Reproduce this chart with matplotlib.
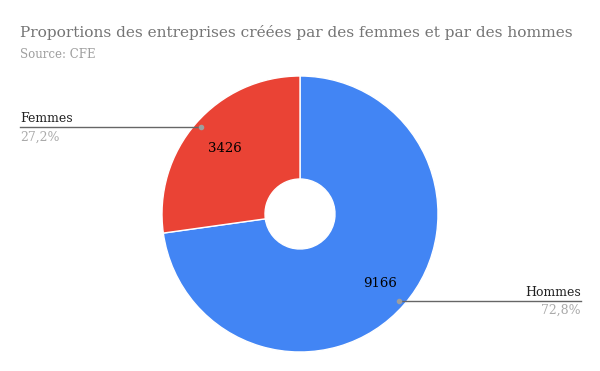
import numpy as np
import matplotlib
matplotlib.use("Agg")
import matplotlib.pyplot as plt

# Data
labels = ["Hommes", "Femmes"]
values = [9166, 3426]
colors = ["#4285F4", "#EA4335"]

title = "Proportions des entreprises créées par des femmes et par des hommes"
subtitle = "Source: CFE"

plt.rcParams['font.family'] = ['DejaVu Serif']

fig = plt.figure(figsize=(6, 3.71), dpi=100)
ax = fig.add_axes([0, 0, 1, 1])

cx, cy, R = 300, 371 - 214, 138
wedges, _ = ax.pie(values, colors=colors, startangle=90, counterclock=False,
                   center=(cx, cy), radius=R, frame=True,
                   wedgeprops=dict(width=R - 35, edgecolor='white', linewidth=1))
ax.set_xlim(0, 600)
ax.set_ylim(0, 371)
ax.set_aspect('equal')
ax.axis('off')

# radial position of the value inside each wedge
inner = [0.77, 0.72]

total = sum(values)
for w, lab, v, f in zip(wedges, labels, values, inner):
    mid = np.deg2rad((w.theta1 + w.theta2) / 2)
    ax.text(cx + f * R * np.cos(mid), cy + f * R * np.sin(mid), str(v),
            ha='center', va='center', fontsize=9.5, color='black')
    # leader line and dot
    px, py = cx + 0.955 * R * np.cos(mid), cy + 0.955 * R * np.sin(mid)
    ax.plot([px], [py], 'o', color='#9e9e9e', markersize=3, zorder=5)
    pct = f"{v / total * 100:.1f}%".replace('.', ',')
    if np.cos(mid) < 0:
        ax.plot([20, px], [py, py], color='#666666', linewidth=1)
        ax.text(20, py + 2, lab, ha='left', va='bottom', fontsize=9, color='#222222')
        ax.text(20, py - 3, pct, ha='left', va='top', fontsize=9, color='#aaaaaa')
    else:
        ax.plot([px, 581], [py, py], color='#666666', linewidth=1)
        ax.text(581, py + 2, lab, ha='right', va='bottom', fontsize=9, color='#222222')
        ax.text(581, py - 3, pct, ha='right', va='top', fontsize=9, color='#aaaaaa')

fig.text(20 / 600, 1 - 33 / 371, title, ha='left', va='center', fontsize=11.1, color='#757575')
fig.text(20 / 600, 1 - 55 / 371, subtitle, ha='left', va='center', fontsize=8.5, color='#9e9e9e')

fig.savefig("out.png", dpi=100)
